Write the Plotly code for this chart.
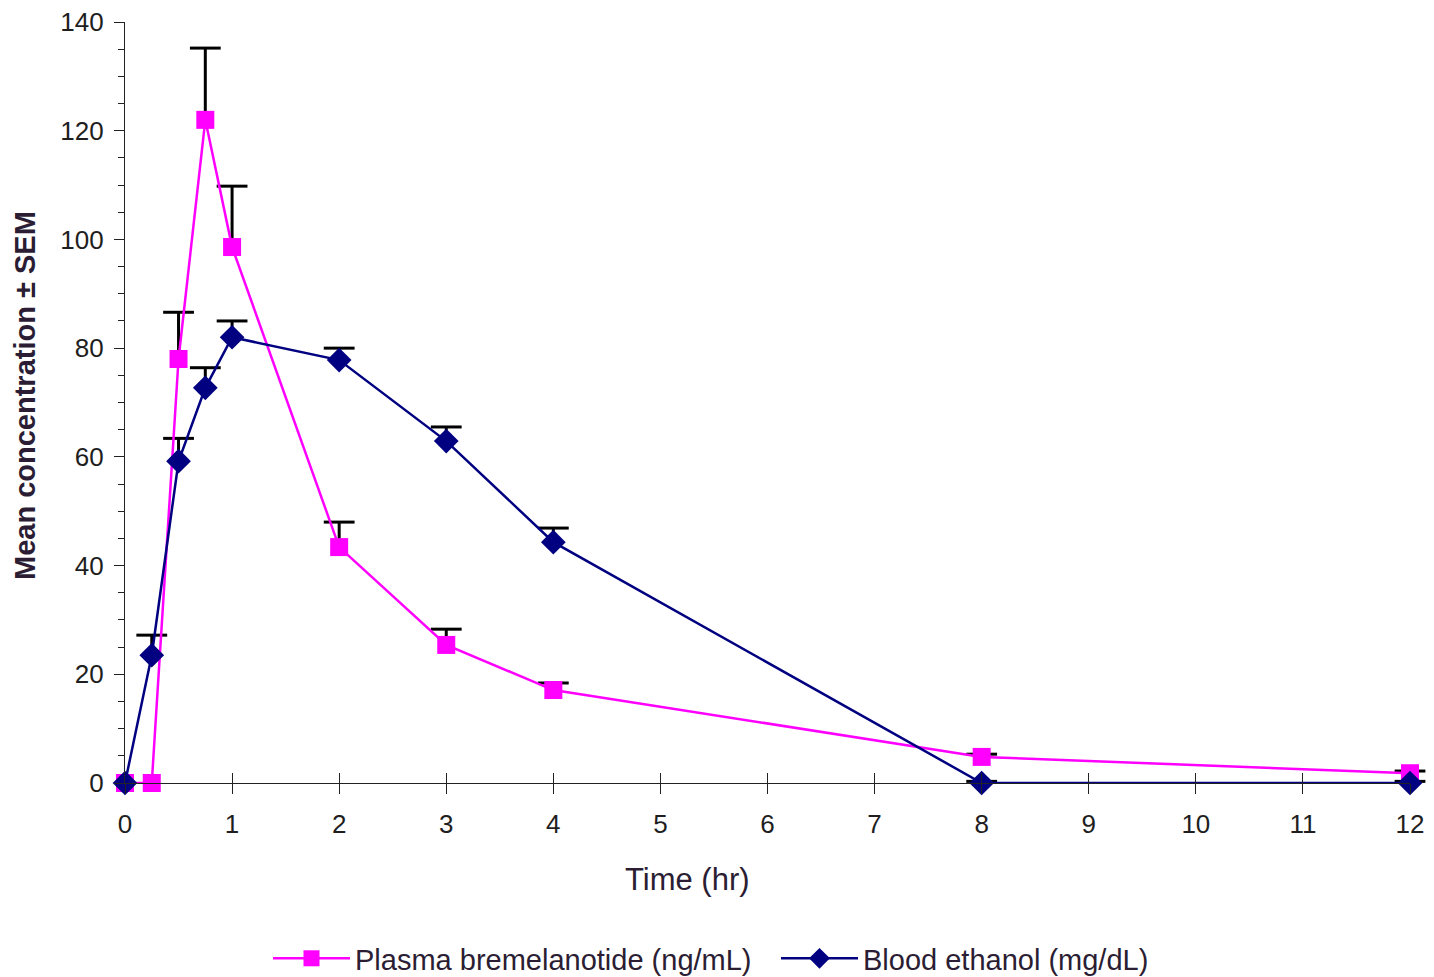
import plotly.graph_objects as go

time_hr = [0, 0.25, 0.5, 0.75, 1, 2, 3, 4, 8, 12]
plasma_brem = [0, 0, 78.0, 122.0, 98.6, 43.4, 25.4, 17.1, 4.8, 1.8]
plasma_sem = [0, 0, 8.6, 13.2, 11.2, 4.6, 2.9, 1.3, 0.5, 0.4]
blood_eth = [0, 23.5, 59.2, 72.7, 82.0, 77.8, 62.9, 44.3, 0, 0]
blood_sem = [0, 3.7, 4.2, 3.7, 3.0, 2.2, 2.6, 2.6, 0.3, 0.3]
x_ticks = list(range(0, 13))
y_ticks = list(range(0, 141, 20))

font_family = "Liberation Sans, Arial, sans-serif"
text_col = "#2b1d33"


def stems(xs, ys, es):
    sx, sy = [], []
    for x, y, e in zip(xs, ys, es):
        if e > 0:
            sx += [x, x, None]
            sy += [y, y + e, None]
    return sx, sy


def caps(xs, ys, es):
    cx, cy = [], []
    for x, y, e in zip(xs, ys, es):
        if e > 0:
            cx.append(x)
            cy.append(y + e)
    return cx, cy


fig = go.Figure()
# error bars (upper only), drawn first so the markers sit on top
for ys, es in [(plasma_brem, plasma_sem), (blood_eth, blood_sem)]:
    sx, sy = stems(time_hr, ys, es)
    fig.add_trace(go.Scatter(x=sx, y=sy, mode="lines", line=dict(color="black", width=3),
                             showlegend=False, hoverinfo="skip", cliponaxis=False))
    cx, cy = caps(time_hr, ys, es)
    fig.add_trace(go.Scatter(x=cx, y=cy, mode="markers",
                             marker=dict(symbol="line-ew", size=22,
                                         line=dict(color="black", width=3)),
                             showlegend=False, hoverinfo="skip", cliponaxis=False))

fig.add_trace(go.Scatter(
    x=time_hr, y=plasma_brem, name="Plasma bremelanotide (ng/mL)",
    mode="lines+markers",
    line=dict(color="#FF00FF", width=2.5),
    marker=dict(symbol="square", size=18, color="#FF00FF"),
    cliponaxis=False,
))
fig.add_trace(go.Scatter(
    x=time_hr, y=blood_eth, name="Blood ethanol (mg/dL)",
    mode="lines+markers",
    line=dict(color="#000080", width=2.5),
    marker=dict(symbol="diamond", size=19, color="#000080"),
    cliponaxis=False,
))
# invisible trace to anchor overlay axis (for ticks crossing the x axis)
fig.add_trace(go.Scatter(x=[0, 12], y=[0, 0], xaxis="x2", mode="none",
                         showlegend=False, hoverinfo="skip"))

fig.update_layout(
    width=1434, height=977,
    margin=dict(l=125, r=24, t=22, b=194, autoexpand=False),
    paper_bgcolor="white", plot_bgcolor="white",
    font=dict(family=font_family, size=26, color="#1e1e1e"),
    showlegend=True,
    legend=dict(orientation="h", xref="container", yref="container",
                x=268/1434, y=0.019, xanchor="left", yanchor="middle",
                font=dict(size=29, color=text_col), itemwidth=77,
                entrywidth=416,
                bgcolor="rgba(0,0,0,0)"),
    xaxis=dict(range=[0, 12], tickvals=x_ticks, ticktext=[str(v) for v in x_ticks],
               showgrid=False, zeroline=False, showline=True, linecolor="#222",
               linewidth=1.2, ticks="outside", ticklen=10, tickwidth=1.2,
               tickcolor="#222", tickfont=dict(size=26, color="#1e1e1e"),
               ticklabelstandoff=8),
    xaxis2=dict(range=[0, 12], overlaying="x", side="bottom", anchor="y",
                tickvals=x_ticks, showticklabels=False, showgrid=False,
                zeroline=False, showline=False, ticks="inside", ticklen=10,
                tickwidth=1.2, tickcolor="#222"),
    yaxis=dict(range=[0, 140], tickvals=y_ticks, showgrid=False, zeroline=False,
               showline=True, linecolor="#222", linewidth=1.2,
               ticks="outside", ticklen=10, tickwidth=1.2, tickcolor="#222",
               tickfont=dict(size=26, color="#1e1e1e"), ticklabelstandoff=5,
               minor=dict(dtick=5, ticks="outside", ticklen=6, tickwidth=1.2,
                          tickcolor="#222", showgrid=False)),
    annotations=[
        dict(text="Time (hr)", xref="paper", yref="paper", x=(687-125)/1285,
             y=-(880-783)/761, xanchor="center", yanchor="middle",
             showarrow=False, font=dict(size=31, color=text_col)),
        dict(text="<b>Mean concentration \u00b1 SEM</b>", xref="paper", yref="paper",
             x=-(125-25)/1285, y=(783-396)/761, xanchor="center", yanchor="middle",
             textangle=-90, showarrow=False, font=dict(size=29, color=text_col)),
    ],
)

fig.write_html("out.html")
